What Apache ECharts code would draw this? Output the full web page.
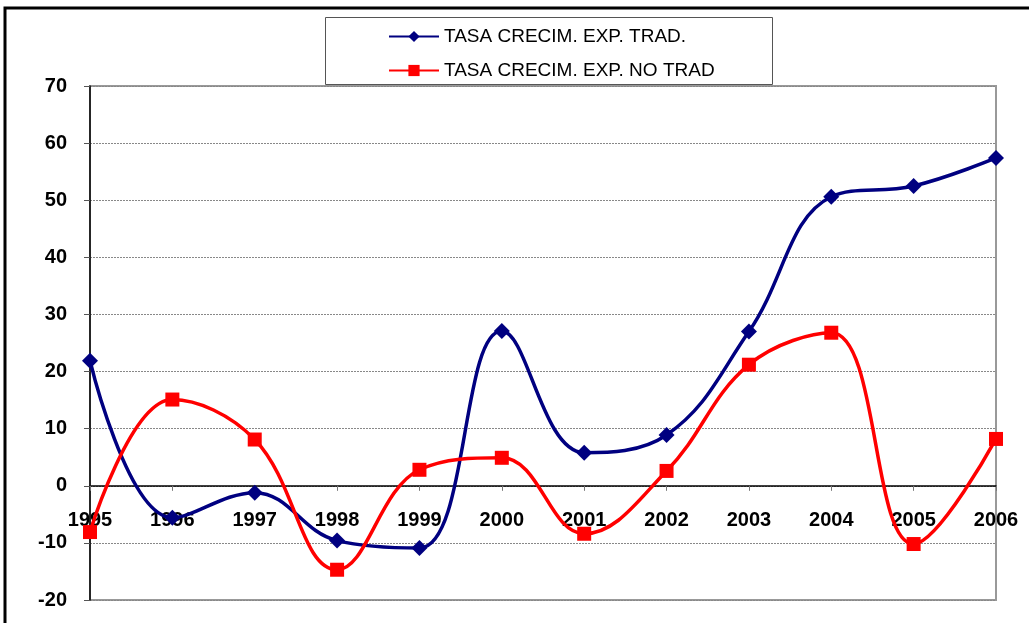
<!DOCTYPE html>
<html><head><meta charset="utf-8">
<script src="https://cdn.jsdelivr.net/npm/echarts@6/dist/echarts.min.js"></script>
<style>html,body{margin:0;padding:0;background:#fff}#c{width:1029px;height:623px}</style>
</head><body><div id="c"></div>
<script>
const years = ['1995','1996','1997','1998','1999','2000','2001','2002','2003','2004','2005','2006'];
const tradName = 'TASA CRECIM. EXP. TRAD.';
const noTradName = 'TASA CRECIM. EXP. NO TRAD';
const trad = [21.9, -5.6, -1.2, -9.6, -10.9, 27.1, 5.8, 8.9, 27.0, 50.6, 52.5, 57.4];
const noTrad = [-8.1, 15.1, 8.1, -14.7, 2.8, 4.9, -8.4, 2.6, 21.2, 26.8, -10.2, 8.2];

const chart = echarts.init(document.getElementById('c'));
const font = 'Arial, "Liberation Sans", sans-serif';
chart.setOption({
  animation: false,
  backgroundColor: '#fff',
  graphic: [
    { type: 'rect', z: 0, shape: { x: 5, y: 8, width: 1040, height: 640 }, style: { fill: 'none', stroke: '#000', lineWidth: 3 } },
    { type: 'rect', z: 100, shape: { x: 325.5, y: 17.5, width: 447, height: 67 }, style: { fill: '#fff', stroke: '#555', lineWidth: 1 } }
  ],
  legend: {
    orient: 'vertical', left: 383, top: 22, itemWidth: 50, itemHeight: 14, itemGap: 15, z: 110,
    textStyle: { fontFamily: font, fontSize: 19, color: '#000' },
    data: [tradName, noTradName]
  },
  grid: { left: 90, right: 33, top: 86, bottom: 23, show: true, borderColor: '#999', borderWidth: 2, outerBoundsMode: 'none' },
  xAxis: {
    type: 'category', data: years, boundaryGap: false, position: 'bottom', offset: -114.2,
    axisLine: { onZero: false, lineStyle: { color: '#000', width: 1.5 } },
    axisTick: { show: true, length: 5, lineStyle: { color: '#777' } },
    axisLabel: { margin: 25, fontFamily: font, fontSize: 20, fontWeight: 'bold', color: '#000', interval: 0 },
    splitLine: { show: false }
  },
  yAxis: {
    type: 'value', min: -20, max: 70, interval: 10,
    axisLine: { show: true, lineStyle: { color: '#000', width: 1.5 } },
    axisTick: { show: true, length: 6, lineStyle: { color: '#555' } },
    axisLabel: { margin: 23, fontFamily: font, fontSize: 20, fontWeight: 'bold', color: '#000' },
    splitLine: { show: true, lineStyle: { color: '#888', type: [2, 1], width: 1 } }
  },
  series: [
    { name: tradName, type: 'line', data: trad, smooth: 0.4, color: '#000080',
      lineStyle: { width: 3.5, color: '#000080' }, symbol: 'diamond', symbolSize: 16,
      itemStyle: { color: '#000080' } },
    { name: noTradName, type: 'line', data: noTrad, smooth: 0.4, color: '#FF0000',
      lineStyle: { width: 3.5, color: '#FF0000' }, symbol: 'rect', symbolSize: 14,
      itemStyle: { color: '#FF0000' } }
  ]
});
</script></body></html>
